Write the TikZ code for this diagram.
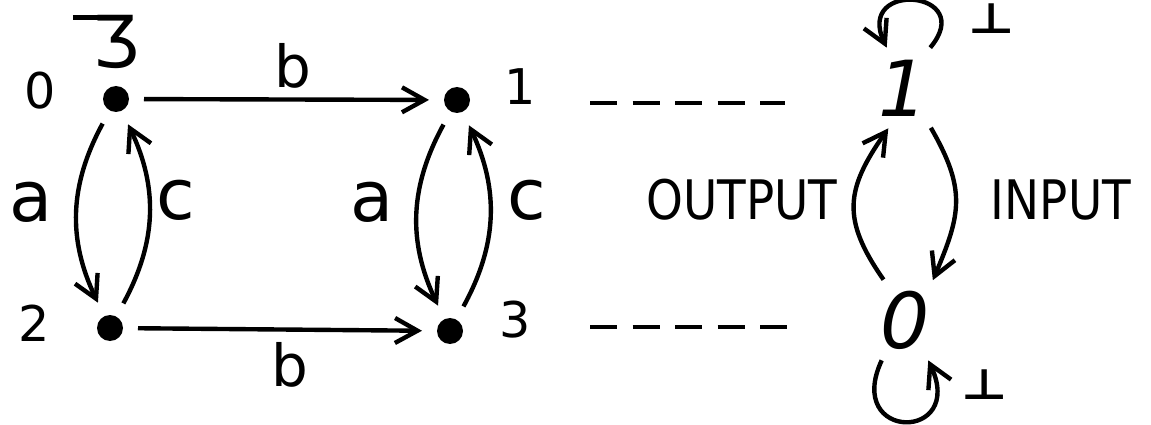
\documentclass[tikz,border=0pt]{standalone}
\usepackage{fontspec}
\setmainfont{DejaVu Sans}
\usepackage{tikz}
\usetikzlibrary{arrows.meta}

\begin{document}
\begin{tikzpicture}[
    dot/.style={circle, fill, inner sep=0pt, minimum size=0.52cm, outer sep=0.3cm},
    num/.style={font=\fontsize{28}{28}\selectfont, inner sep=0pt},
    letter/.style={font=\fontsize{40}{40}\selectfont, inner sep=0pt},
    blabel/.style={font=\fontsize{33}{33}\selectfont, inner sep=0pt},
    word/.style={font=\fontsize{31}{31}\selectfont, inner sep=0pt, xscale=0.86},
    state/.style={font=\fontsize{44}{44}\selectfont\itshape, inner sep=0pt, minimum width=1.1cm, minimum height=1.6cm},
    bottom/.style={font=\fontsize{24}{24}\selectfont\bfseries, inner sep=0pt, xscale=1.2},
    arrow/.style={-{Straight Barb[length=0.45cm,width=0.5cm]}, line width=2.5pt},
    dashline/.style={line width=2.5pt, dash pattern=on 0.54cm off 0.31cm}
]
\useasboundingbox (0,0) rectangle (23.02,8.48);

% left automaton
\foreach \n/\x/\y/\lx/\ly in {0/2.32/6.50/0.80/6.66, 1/9.14/6.48/10.40/6.74, 2/2.20/1.92/0.68/2.02, 3/9.00/1.86/10.30/2.08} {
    \node[dot] (n\n) at (\x,\y) {};
    \node[num] (l\n) at (\lx,\ly) {\n};
}
\node[letter] (init) at (2.12,7.64) {\rule[0.66em]{0.36em}{0.075em}\kern-0.08em Ʒ};

\draw[arrow] (n0) -- (n1);
\draw[arrow] (n2) -- (n3);
\draw[arrow] (n0) to[bend right=27] (n2);
\draw[arrow] (n2) to[bend right=27] (n0);
\draw[arrow] (n1) to[bend right=27] (n3);
\draw[arrow] (n3) to[bend right=27] (n1);

\node[blabel] (b01) at (5.86,7.16) {b};
\node[blabel] (b23) at (5.80,1.18) {b};
\node[letter] (a02) at (0.63,4.44) {a};
\node[letter] (c20) at (3.52,4.48) {c};
\node[letter] (a13) at (7.44,4.44) {a};
\node[letter] (c31) at (10.54,4.48) {c};

% dashed correspondence
\coordinate (d1a) at (11.80,6.42);
\coordinate (d1b) at (15.70,6.42);
\coordinate (d3a) at (11.80,1.94);
\coordinate (d3b) at (15.94,1.94);
\draw[dashline] (d1a) -- (d1b);
\draw[dashline] (d3a) -- (d3b);

% two-state machine
\node[state] (r1) at (18.06,6.72) {1};
\node[state] (r0) at (18.10,2.08) {0};
\node[word] (out) at (14.84,4.48) {OUTPUT};
\node[word] (in) at (21.22,4.48) {INPUT};
\node[bottom] (bot1) at (19.84,8.10) {⊥};
\node[bottom] (bot0) at (19.70,0.78) {⊥};

\draw[arrow] (r0.118) to[out=125, in=-125, looseness=1.25] (r1.250);
\draw[arrow] (r1.-55) to[out=-60, in=67, looseness=1.2] (r0.55);
\draw[arrow] (r1.56) .. controls +(50:1.5) and +(115:1.5) .. (r1.112);
\draw[arrow] (r0.240) .. controls +(-115:1.8) and +(-65:1.8) .. (r0.300);
\end{tikzpicture}
\end{document}
